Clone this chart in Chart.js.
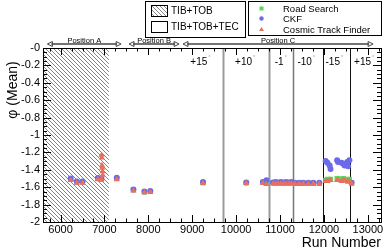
<!DOCTYPE html>
<html>
<head>
<meta charset="utf-8">
<script src="https://cdn.jsdelivr.net/npm/chart.js@4.4.0/dist/chart.umd.min.js"></script>
<style>
  html, body { margin: 0; padding: 0; background: #fff; }
  #wrap { width: 388px; height: 249px; }
</style>
</head>
<body>
<div id="wrap"><canvas id="chart"></canvas></div>
<script>
// Run numbers shared by all three trackers
const runs = [6230, 6370, 6500, 6850, 6930, 7280, 7660, 7910, 8045, 9245,
  10230, 10610, 10690, 10840, 10900, 10960, 11020, 11080, 11140, 11200, 11260,
  11340, 11440, 11530, 11645, 11760, 11895,
  12040, 12080, 12130, 12150, 12300, 12320, 12400, 12440, 12470, 12530, 12550, 12580, 12630];
const roadSearch = [-1.51, -1.54, -1.54, -1.50, -1.51, -1.50, -1.63, -1.655, -1.65, -1.55,
  -1.55, -1.545, -1.54, -1.55, -1.55, -1.55, -1.55, -1.55, -1.55, -1.55, -1.55,
  -1.555, -1.555, -1.555, -1.555, -1.555, -1.555,
  -1.52, -1.51, -1.51, -1.51, -1.50, -1.50, -1.51, -1.50, -1.51, -1.51, -1.52, -1.51, -1.55];
const ckf = [-1.50, -1.535, -1.535, -1.495, -1.50, -1.49, -1.625, -1.65, -1.645, -1.54,
  -1.545, -1.54, -1.52, -1.545, -1.54, -1.545, -1.54, -1.545, -1.54, -1.545, -1.54,
  -1.55, -1.55, -1.55, -1.55, -1.55, -1.55,
  -1.30, -1.32, -1.35, -1.39, -1.29, -1.31, -1.32, -1.33, -1.35, -1.31, -1.36, -1.29, -1.55];
const cosmicTF = [-1.52, -1.55, -1.55, -1.51, -1.51, -1.51, -1.64, -1.66, -1.655, -1.555,
  -1.555, -1.555, -1.565, -1.56, -1.56, -1.56, -1.56, -1.56, -1.56, -1.56, -1.56,
  -1.56, -1.56, -1.56, -1.56, -1.56, -1.56,
  -1.53, -1.53, -1.52, -1.52, -1.52, -1.52, -1.53, -1.52, -1.52, -1.53, -1.54, -1.53, -1.56];
// Extra Cosmic Track Finder runs near 6900
const towerRuns = [6935, 6940, 6945, 6950, 6955, 6960];
const towerCosmicTF = [-1.23, -1.26, -1.35, -1.38, -1.42, -1.46];

const xTicks = [6000, 7000, 8000, 9000, 10000, 11000, 12000, 13000];
const yTicks = [0, -0.2, -0.4, -0.6, -0.8, -1, -1.2, -1.4, -1.6, -1.8, -2];

const hatchRange = [5600, 7100];
const boundaries = [9700, 10750, 11300, 11970, 12590];
const angleLabels = ["+15", "+10", "-1", "-10", "-15", "+15"];
const angleRuns = [9150, 10170, 10980, 11560, 12200, 12880];
const positionLabels = ["Position A", "Position B", "Position C"];
const positionStarts = [5700, 7560, 8790];
const positionEnds = [7380, 8700, 13120];

const boundaryStyles = [
  { color: "#9a9a9a", width: 2 }, { color: "#9a9a9a", width: 2 }, { color: "#777", width: 1.5 },
  { color: "#111", width: 1 }, { color: "#111", width: 1 }
];
const COL_RS = "#5fd65f", COL_CKF = "#6b6bea", COL_CTF = "#e8705e";
const FONT = "'Liberation Sans', Arial, Helvetica, sans-serif";

function pts(xs, ys) { return xs.map((x, i) => ({ x, y: ys[i] })); }

function hatch(ctx, x0, y0, w, h, step) {
  ctx.save();
  ctx.beginPath();
  ctx.rect(x0, y0, w, h);
  ctx.clip();
  ctx.strokeStyle = "#858585";
  ctx.lineWidth = 1;
  ctx.beginPath();
  for (let i = -h; i < w; i += step) {
    ctx.moveTo(x0 + i, y0);
    ctx.lineTo(x0 + i + h, y0 + h);
  }
  ctx.stroke();
  ctx.restore();
}

const backdrop = {
  id: "backdrop",
  beforeDatasetsDraw(chart) {
    const { ctx, chartArea: a, scales: { x } } = chart;
    const hx0 = x.getPixelForValue(hatchRange[0]);
    const hx1 = x.getPixelForValue(hatchRange[1]);
    hatch(ctx, hx0, a.top, hx1 - hx0, a.bottom - a.top, 4);
    boundaries.forEach((b, i) => {
      const px = Math.round(x.getPixelForValue(b)) + 0.5;
      ctx.save();
      ctx.strokeStyle = boundaryStyles[i].color;
      ctx.lineWidth = boundaryStyles[i].width;
      ctx.beginPath();
      ctx.moveTo(px, a.top);
      ctx.lineTo(px, a.bottom);
      ctx.stroke();
      ctx.restore();
    });
  },
  afterDraw(chart) {
    const { ctx, chartArea: a, scales: { x, y } } = chart;
    ctx.save();
    // frame
    ctx.strokeStyle = "#000";
    ctx.lineWidth = 1;
    ctx.strokeRect(Math.round(a.left) + 0.5, Math.round(a.top) + 0.5,
      Math.round(a.right - a.left), Math.round(a.bottom - a.top));
    // inside ticks
    ctx.beginPath();
    for (let v = 5750; v <= 13300; v += 250) {
      const px = Math.round(x.getPixelForValue(v)) + 0.5;
      const len = v % 1000 === 0 ? 7 : 3.5;
      ctx.moveTo(px, a.bottom); ctx.lineTo(px, a.bottom - len);
      ctx.moveTo(px, a.top); ctx.lineTo(px, a.top + len);
    }
    for (let k = 0; k <= 40; k++) {
      const v = -k * 0.05;
      const py = Math.round(y.getPixelForValue(v)) + 0.5;
      const len = k % 4 === 0 ? 8 : 4;
      ctx.moveTo(a.left, py); ctx.lineTo(a.left + len, py);
      ctx.moveTo(a.right, py); ctx.lineTo(a.right - len, py);
    }
    ctx.stroke();

    // angle labels
    ctx.textBaseline = "middle";
    angleLabels.forEach((t, i) => {
      const px = x.getPixelForValue(angleRuns[i]);
      ctx.font = "10px " + FONT;
      ctx.textAlign = "center";
      ctx.fillStyle = "#000";
      ctx.fillText(t, px, 62);
      const w = ctx.measureText(t).width;
      ctx.font = "6px " + FONT;
      ctx.fillStyle = "#999";
      ctx.textAlign = "left";
      ctx.fillText("°", px + w / 2 + 1, 57);
    });

    // legend box 1
    ctx.lineWidth = 1;
    ctx.strokeStyle = "#000";
    ctx.fillStyle = "#fff";
    ctx.fillRect(145.5, 1.5, 100, 36);
    ctx.strokeRect(145.5, 1.5, 100, 36);
    hatch(ctx, 151, 5, 17, 12, 4);
    ctx.strokeRect(151.5, 5.5, 16, 11);
    ctx.strokeRect(151.5, 21.5, 16, 11);
    ctx.fillStyle = "#000";
    ctx.font = "10px " + FONT;
    ctx.textAlign = "left";
    ctx.textBaseline = "middle";
    ctx.fillText("TIB+TOB", 171, 11.5);
    ctx.fillText("TIB+TOB+TEC", 171, 27.5);

    // legend box 2
    ctx.fillStyle = "#fff";
    ctx.fillRect(248.5, 1.5, 133, 34);
    ctx.strokeRect(248.5, 1.5, 133, 34);
    ctx.fillStyle = COL_RS;
    ctx.fillRect(259.5, 6.5, 4, 4);
    ctx.fillStyle = COL_CKF;
    ctx.beginPath(); ctx.arc(261.5, 18.5, 2.2, 0, Math.PI * 2); ctx.fill();
    ctx.fillStyle = COL_CTF;
    ctx.beginPath(); ctx.moveTo(261.5, 27); ctx.lineTo(264, 31); ctx.lineTo(259, 31); ctx.closePath(); ctx.fill();
    ctx.fillStyle = "#000";
    ctx.font = "9.5px " + FONT;
    ctx.fillText("Road Search", 283, 9);
    ctx.fillText("CKF", 283, 19.5);
    ctx.fillText("Cosmic Track Finder", 283, 30.5);

    // position arrows
    const ay = 44;
    ctx.strokeStyle = "#444";
    ctx.fillStyle = "#000";
    positionLabels.forEach((t, i) => {
      const x0 = x.getPixelForValue(positionStarts[i]);
      const x1 = x.getPixelForValue(positionEnds[i]);
      ctx.lineWidth = 1.4;
      ctx.beginPath();
      ctx.moveTo(x0 + 4, ay); ctx.lineTo(x1 - 4, ay);
      ctx.stroke();
      ctx.lineWidth = 1;
      ctx.beginPath();
      ctx.moveTo(x0, ay); ctx.lineTo(x0 + 5, ay - 2.5); ctx.lineTo(x0 + 5, ay + 2.5); ctx.closePath();
      ctx.moveTo(x1, ay); ctx.lineTo(x1 - 5, ay - 2.5); ctx.lineTo(x1 - 5, ay + 2.5); ctx.closePath();
      ctx.stroke();
      ctx.font = "7.5px " + FONT;
      ctx.textAlign = "center";
      ctx.textBaseline = "alphabetic";
      ctx.fillText(t, (x0 + x1) / 2, 42.5);
    });

    // axis titles
    ctx.font = "14px " + FONT;
    ctx.textAlign = "right";
    ctx.textBaseline = "alphabetic";
    ctx.fillText("Run Number", a.right, 247);
    ctx.save();
    ctx.translate(17, 90);
    ctx.rotate(-Math.PI / 2);
    ctx.textAlign = "center";
    ctx.fillText("\u03c6 (Mean)", 0, 0);
    ctx.restore();
    ctx.restore();
  }
};

new Chart(document.getElementById("chart"), {
  type: "scatter",
  data: {
    datasets: [
      {
        label: "Cosmic Track Finder",
        data: pts(runs, cosmicTF).concat(pts(towerRuns, towerCosmicTF)),
        backgroundColor: COL_CTF, pointStyle: "triangle", pointRadius: 3.6, borderWidth: 0, order: 0
      },
      {
        label: "CKF",
        data: pts(runs, ckf),
        backgroundColor: COL_CKF, pointStyle: "circle", pointRadius: 3, borderWidth: 0, order: 1
      },
      {
        label: "Road Search",
        data: pts(runs, roadSearch),
        backgroundColor: COL_RS, pointStyle: "rect", pointRadius: 3.6, borderWidth: 0, order: 2
      }
    ]
  },
  options: {
    responsive: true,
    maintainAspectRatio: false,
    animation: false,
    layout: { padding: { top: 48, right: 7, left: 0, bottom: 0 } },
    plugins: { legend: { display: false }, tooltip: { enabled: false } },
    scales: {
      x: {
        type: "linear", min: 5600, max: 13300,
        grid: { display: false, drawTicks: false },
        border: { display: false },
        afterBuildTicks: (s) => { s.ticks = xTicks.map((v) => ({ value: v })); },
        afterFit: (s) => { s.height = 27; },
        ticks: { color: "#000", font: { family: FONT, size: 11 }, padding: 1, maxRotation: 0, autoSkip: false,
          callback: (v) => String(v) }
      },
      y: {
        type: "linear", min: -2, max: 0,
        grid: { display: false, drawTicks: false },
        border: { display: false },
        afterBuildTicks: (s) => { s.ticks = yTicks.map((v) => ({ value: v })); },
        afterFit: (s) => { s.width = 43; },
        ticks: { color: "#000", font: { family: FONT, size: 11 }, padding: 3, autoSkip: false,
          callback: (v) => (v === 0 ? "-0" : String(+v.toFixed(1))) }
      }
    }
  },
  plugins: [backdrop]
});
</script>
</body>
</html>
